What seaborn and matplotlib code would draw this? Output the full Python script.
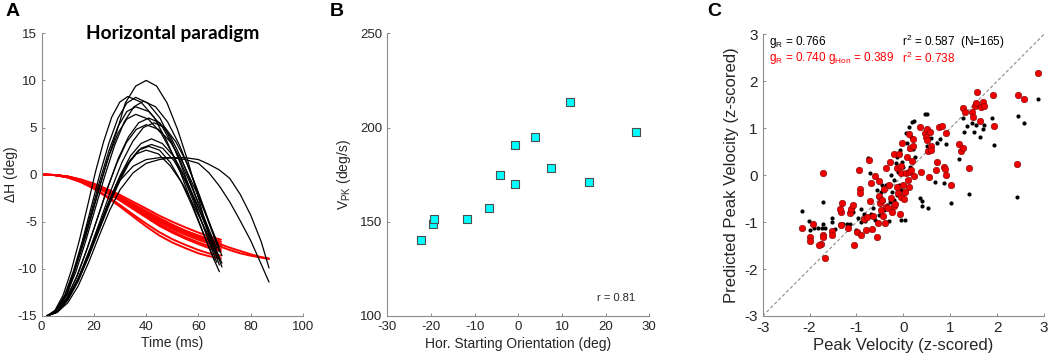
import numpy as np
import pandas as pd
import matplotlib
matplotlib.use("Agg")
import matplotlib.pyplot as plt
import seaborn as sns

# ---------------- Panel A data (curves) ----------------
black_curves_t = [
    [2, 6, 10, 13, 17, 21, 25, 29, 32, 36, 40, 44, 48, 52, 56, 60, 64, 68],
    [2, 5.1, 8.2, 11.3, 14.4, 17.5, 20.6, 23.7, 26.8, 29.9, 33, 38, 43, 48, 53, 58, 63, 66],
    [2, 5.4, 8.8, 12.2, 15.6, 19, 22.4, 25.8, 29.2, 32.6, 36, 40.6, 45.3, 49.9, 54.5, 59.2, 63.8, 67],
    [2, 5.4, 8.8, 12.2, 15.6, 19, 22.4, 25.8, 29.2, 32.6, 36, 41, 46.1, 51.1, 56.2, 61.2, 66.2, 67],
    [2, 5.7, 9.4, 13.1, 16.8, 20.5, 24.2, 27.9, 31.6, 35.3, 39, 43.6, 48.2, 52.8, 57.4, 62, 66.6, 68],
    [2, 5.4, 8.8, 12.2, 15.6, 19, 22.4, 25.8, 29.2, 32.6, 36, 40.8, 45.7, 50.5, 55.4, 60.2, 65, 67],
    [2, 5.9, 9.8, 13.7, 17.6, 21.5, 25.4, 29.3, 33.2, 37.1, 41, 45.2, 49.4, 53.5, 57.7, 61.9, 66.1, 69],
    [2, 6.1, 10.2, 14.3, 18.4, 22.5, 26.6, 30.7, 34.8, 38.9, 43, 47.2, 51.3, 55.5, 59.6, 63.8, 68, 69],
    [2, 5.8, 9.6, 13.4, 17.2, 21, 24.8, 28.6, 32.4, 36.2, 40, 44.8, 49.5, 54.3, 59, 63.8, 68],
    [2, 6, 10, 14, 18, 22, 26, 30, 34, 38, 42, 46.2, 50.4, 54.6, 58.8, 63, 67.2, 68],
    [2, 6, 10, 14, 18, 22, 26, 30, 34, 38, 42, 46.3, 50.6, 55, 59.3, 63.6, 67.9, 69],
    [2, 5.9, 9.8, 13.7, 17.6, 21.5, 25.4, 29.3, 33.2, 37.1, 41, 45.1, 49.2, 53.3, 57.4, 61.5, 65.6, 68],
    [2, 5.8, 9.6, 13.4, 17.2, 21, 24.8, 28.6, 32.4, 36.2, 40, 44.7, 49.3, 54, 58.6, 63.3, 67],
    [2, 6, 10, 14, 18, 22, 26, 30, 35, 40, 45, 50, 55, 60, 64, 68, 72, 76, 80, 84, 87],
    [2, 6, 10, 14, 18, 22, 26, 30, 35, 40, 45, 50, 55, 60, 64, 68, 72, 76, 80, 84, 87],
]
black_curves_y = [
    [-15, -14.4, -12.6, -9.8, -6.4, -2.5, 1.4, 4.8, 7.6, 9.4, 10.0, 9.4, 7.6, 4.8, 1.4, -2.5, -6.4, -9.6],
    [-15, -14.4, -12.8, -10.2, -7.0, -3.4, 0.3, 3.5, 6.1, 7.7, 8.3, 7.7, 6.1, 3.5, 0.3, -3.4, -7.0, -9.0],
    [-15, -14.4, -12.8, -10.2, -7.0, -3.4, 0.2, 3.4, 6.0, 7.6, 8.2, 7.6, 6.0, 3.4, 0.2, -3.4, -7.0, -9.3],
    [-15, -14.5, -12.9, -10.4, -7.3, -3.9, -0.5, 2.6, 5.1, 6.7, 7.2, 6.7, 5.1, 2.6, -0.5, -3.9, -7.3, -7.8],
    [-15, -14.4, -12.8, -10.3, -7.1, -3.6, -0.1, 3.1, 5.6, 7.2, 7.8, 7.2, 5.6, 3.1, -0.1, -3.6, -7.1, -8.2],
    [-15, -14.5, -13.0, -10.6, -7.6, -4.3, -1.0, 2.0, 4.4, 5.9, 6.4, 5.9, 4.4, 2.0, -1.0, -4.3, -7.6, -8.8],
    [-15, -14.5, -13.0, -10.7, -7.7, -4.5, -1.3, 1.7, 4.0, 5.5, 6.0, 5.5, 4.0, 1.7, -1.3, -4.5, -7.7, -9.8],
    [-15, -14.5, -13.0, -10.8, -7.9, -4.8, -1.6, 1.3, 3.5, 5.0, 5.5, 5.0, 3.5, 1.3, -1.6, -4.8, -7.9, -8.6],
    [-15, -14.5, -13.1, -10.8, -8.0, -4.9, -1.7, 1.1, 3.4, 4.8, 5.3, 4.8, 3.4, 1.1, -1.7, -4.9, -7.7],
    [-15, -14.5, -13.2, -11.1, -8.5, -5.6, -2.7, -0.1, 2.0, 3.3, 3.8, 3.3, 2.0, -0.1, -2.7, -5.6, -8.5, -9.0],
    [-15, -14.6, -13.3, -11.2, -8.7, -5.9, -3.1, -0.6, 1.5, 2.8, 3.2, 2.8, 1.5, -0.6, -3.1, -5.9, -8.7, -9.4],
    [-15, -14.6, -13.3, -11.3, -8.8, -6.0, -3.2, -0.7, 1.3, 2.6, 3.0, 2.6, 1.3, -0.7, -3.2, -6.0, -8.8, -10.3],
    [-15, -14.6, -13.3, -11.4, -8.9, -6.2, -3.5, -1.0, 0.9, 2.2, 2.6, 2.2, 0.9, -1.0, -3.5, -6.2, -8.4],
    [-15, -14.5, -13.3, -11.3, -8.6, -5.6, -2.7, -0.6, 0.9, 1.6, 1.8, 1.8, 1.6, 1.2, 0.2, -1.2, -2.9, -4.9, -7.0, -9.5, -11.4],
    [-15, -14.6, -13.6, -11.8, -9.3, -6.5, -3.8, -1.6, 0.2, 1.2, 1.6, 1.8, 1.8, 1.6, 1.1, 0.5, -0.4, -2.1, -4.3, -7.1, -9.9],
]

red_t_short = [0, 5, 10, 15, 20, 25, 30, 35, 40, 45, 50, 55, 60, 64, 68.6]
red_t_long = [0, 5, 10, 15, 20, 25, 30, 35, 40, 45, 50, 55, 60, 64, 68, 72, 76, 80, 84, 87]
red_curves_y_short = [
    [0, -0.03, -0.19, -0.50, -0.95, -1.52, -2.15, -2.88, -3.60, -4.35, -5.00, -5.60, -6.15, -6.55, -6.9],
    [0, -0.04, -0.21, -0.57, -1.07, -1.70, -2.41, -3.20, -3.98, -4.76, -5.40, -5.96, -6.46, -6.82, -7.1],
    [0, -0.04, -0.22, -0.58, -1.10, -1.75, -2.48, -3.29, -4.09, -4.89, -5.55, -6.13, -6.64, -7.01, -7.3],
    [0, -0.04, -0.23, -0.61, -1.14, -1.82, -2.58, -3.42, -4.26, -5.09, -5.78, -6.38, -6.92, -7.30, -7.6],
    [0, -0.04, -0.24, -0.63, -1.19, -1.90, -2.69, -3.56, -4.42, -5.29, -6.00, -6.64, -7.19, -7.58, -7.9],
    [0, -0.04, -0.24, -0.65, -1.22, -1.94, -2.75, -3.65, -4.54, -5.43, -6.16, -6.80, -7.37, -7.78, -8.1],
    [0, -0.05, -0.29, -0.76, -1.42, -2.27, -3.22, -4.23, -5.20, -6.10, -6.85, -7.45, -8.00, -8.35, -8.6],
    [0, -0.05, -0.30, -0.80, -1.50, -2.40, -3.40, -4.45, -5.50, -6.45, -7.20, -7.80, -8.35, -8.65, -8.9],
]
red_curves_y_long = [
    [0, -0.04, -0.20, -0.55, -1.05, -1.65, -2.35, -3.10, -3.85, -4.60, -5.30, -5.95, -6.50, -6.95, -7.35, -7.75, -8.10, -8.45, -8.75, -8.9],
    [0, -0.04, -0.22, -0.58, -1.10, -1.75, -2.50, -3.30, -4.10, -4.90, -5.60, -6.20, -6.75, -7.20, -7.60, -8.00, -8.35, -8.60, -8.80, -8.95],
]

# ---------------- Panel B data ----------------
b_orientation = [-22.4, -19.5, -19.3, -11.8, -6.8, -4.2, -0.8, -0.8, 3.8, 7.4, 11.8, 16.2, 26.9]
b_vpk = [140.3, 149.0, 151.6, 151.6, 157.5, 174.8, 170.0, 190.6, 195.2, 178.7, 213.7, 170.9, 197.8]

# ---------------- Panel C data (z-scored peak velocity: observed, predicted) ----------------
c_black_points = [
    (-2.16, -0.76), (-2.01, -0.98), (-2.00, -1.17), (-1.91, -1.12), (-1.81, -1.12), (-1.74, -1.12),
    (-1.72, -0.57), (-1.71, -1.04), (-1.67, -1.12), (-1.53, -0.92), (-1.53, -0.99), (-1.46, -1.14),
    (-1.35, -1.04), (-1.28, -1.04), (-1.21, -1.04), (-1.14, -1.04), (-1.08, -0.67), (-1.07, -0.78),
    (-1.02, -1.17), (-0.96, -0.92), (-0.91, -0.73), (-0.90, -1.00), (-0.85, -0.82), (-0.82, -0.97),
    (-0.78, -0.90), (-0.75, 0.37), (-0.71, 0.04), (-0.68, -0.82), (-0.64, -0.71), (-0.60, -0.96),
    (-0.57, -0.32), (-0.55, -0.46), (-0.51, -0.85), (-0.48, -0.35), (-0.46, -0.21), (-0.44, -0.55),
    (-0.41, -0.74), (-0.38, -0.21), (-0.34, -0.64), (-0.31, -0.98), (-0.28, -0.58), (-0.26, 0.00),
    (-0.24, -0.35), (-0.21, -0.10), (-0.19, -0.53), (-0.16, 0.25), (-0.14, 0.39), (-0.13, -0.42),
    (-0.11, 0.07), (-0.10, -0.21), (-0.07, 0.53), (-0.06, -0.32), (-0.04, -0.96), (-0.03, 0.29),
    (0.00, 0.18), (0.03, 0.04), (0.04, -0.96), (0.06, 0.89), (0.07, 0.68), (0.11, 0.55),
    (0.13, 1.03), (0.14, 0.18), (0.16, 0.82), (0.18, 1.14), (0.20, 0.55), (0.23, 1.16),
    (0.25, 0.39), (0.36, -0.49), (0.39, -0.55), (0.40, -0.65), (0.47, 1.30), (0.50, 1.30),
    (0.51, 0.61), (0.53, -0.71), (0.60, 0.80), (0.68, -0.14), (0.72, 0.68), (0.78, 0.78),
    (0.87, -0.17), (0.92, 0.66), (1.02, -0.60), (1.18, 0.34), (1.28, 1.21), (1.29, 0.92),
    (1.35, 1.04), (1.39, -0.41), (1.46, 1.10), (1.51, 0.91), (1.55, 1.07), (1.64, 0.82),
    (1.69, 0.98), (1.71, 1.07), (1.89, 1.21), (1.94, 0.64), (2.42, -0.46), (2.45, 1.26),
    (2.57, 1.12), (2.88, 1.62),
]
c_red_points = [
    (-2.16, -1.13), (-2.00, -1.32), (-2.00, -1.41), (-1.92, -1.04), (-1.71, -1.27), (-1.76, -1.47),
    (-1.80, -1.49), (-1.72, -1.32), (-1.68, -1.77), (-1.72, 0.04), (-1.53, -1.20), (-1.53, -1.28),
    (-1.32, -0.79), (-1.36, -0.73), (-1.30, -0.60), (-1.34, -1.06), (-1.19, -1.12), (-1.13, -0.81),
    (-1.11, -0.72), (-1.05, -1.49), (-1.07, -0.63), (-0.99, -1.22), (-0.91, -1.27), (-0.94, 0.10),
    (-0.93, -0.29), (-0.92, -0.37), (-0.85, -0.93), (-0.80, -1.17), (-0.77, -0.89), (-0.74, 0.32),
    (-0.71, -0.55), (-0.70, -0.16), (-0.67, -1.15), (-0.64, -0.88), (-0.60, -0.02), (-0.57, -1.32),
    (-0.55, -1.03), (-0.53, -0.44), (-0.52, -0.12), (-0.50, -0.59), (-0.48, -0.75), (-0.46, -0.52),
    (-0.44, -0.88), (-0.42, -0.30), (-0.40, -1.01), (-0.38, 0.16), (-0.36, -0.68), (-0.32, -0.71),
    (-0.30, -0.21), (-0.28, 0.29), (-0.26, -0.49), (-0.24, -0.78), (-0.21, -0.66), (-0.19, 0.44),
    (-0.18, -0.62), (-0.14, 0.16), (-0.13, -0.25), (-0.11, -0.37), (-0.09, 0.44), (-0.08, -0.82),
    (-0.06, 0.20), (-0.05, -0.46), (-0.04, 0.04), (-0.02, 0.68), (0.00, -0.20), (0.01, -0.50),
    (0.04, -0.35), (0.06, 0.04), (0.07, 0.39), (0.09, -0.10), (0.11, 0.07), (0.11, 0.87),
    (0.13, -0.25), (0.14, 0.57), (0.16, 0.11), (0.18, 0.31), (0.20, 0.61), (0.21, 0.76),
    (0.23, -0.01), (0.36, 1.03), (0.37, 0.06), (0.46, 0.89), (0.48, 0.82), (0.50, 0.75),
    (0.51, 0.99), (0.52, 0.52), (0.54, -0.03), (0.57, 0.92), (0.58, 0.61), (0.60, 0.54),
    (0.70, 0.11), (0.71, 0.29), (0.77, 1.03), (0.82, 1.05), (0.87, 0.18), (0.88, 0.14),
    (0.90, 0.00), (0.92, 0.89), (1.02, -0.21), (1.19, 0.66), (1.24, 0.51), (1.27, 0.58),
    (1.28, 1.42), (1.31, 1.35), (1.39, 0.15), (1.46, 1.35), (1.49, 1.23), (1.53, 1.47),
    (1.56, 1.54), (1.58, 1.78), (1.64, 1.16), (1.65, 1.46), (1.69, 1.56), (1.72, 1.47),
    (1.91, 1.71), (1.94, 1.05), (2.42, 0.24), (2.45, 1.71), (2.58, 1.62), (2.88, 2.18),
]

# ---------------- style ----------------
sns.set_style("ticks")
plt.rcParams["font.family"] = ["Liberation Sans", "DejaVu Sans"]
plt.rcParams["mathtext.fontset"] = "custom"
plt.rcParams["mathtext.rm"] = "Liberation Sans"
plt.rcParams["mathtext.it"] = "Liberation Sans:italic"
plt.rcParams["xtick.direction"] = "in"
plt.rcParams["ytick.direction"] = "in"
plt.rcParams["axes.unicode_minus"] = False

SPINE = "#8c8c8c"
TXT = "#262626"

fig = plt.figure(figsize=(10.52, 3.62), dpi=100)
axA = fig.add_axes([0.0396, 0.1271, 0.2484, 0.7809])
axB = fig.add_axes([0.3682, 0.1271, 0.2490, 0.7809])
axC = fig.add_axes([0.7250, 0.1271, 0.2674, 0.7782])


def style(ax, fs):
    for s in ("top", "right"):
        ax.spines[s].set_visible(False)
    for s in ("left", "bottom"):
        ax.spines[s].set_color(SPINE)
        ax.spines[s].set_linewidth(0.8)
    ax.tick_params(length=2.5, width=0.7, color=SPINE, labelcolor=TXT,
                   labelsize=fs, pad=3.5)


# ---------- Panel A ----------
rows = []
for i, ys in enumerate(red_curves_y_short):
    for t, y in zip(red_t_short, ys):
        rows.append(("r%d" % i, t, y))
for i, ys in enumerate(red_curves_y_long):
    for t, y in zip(red_t_long, ys):
        rows.append(("rl%d" % i, t, y))
df_red = pd.DataFrame(rows, columns=["curve", "t", "y"])
rows = []
for i, (ts, ys) in enumerate(zip(black_curves_t, black_curves_y)):
    for t, y in zip(ts, ys):
        rows.append(("b%d" % i, t, y))
df_black = pd.DataFrame(rows, columns=["curve", "t", "y"])

sns.lineplot(data=df_red, x="t", y="y", units="curve", estimator=None, sort=False,
             color="#ff0000", lw=1.4, ax=axA)
sns.lineplot(data=df_black, x="t", y="y", units="curve", estimator=None, sort=False,
             color="black", lw=0.9, ax=axA)
axA.set_xlim(0, 100)
axA.set_ylim(-15, 15)
axA.set_xticks(np.arange(0, 101, 20))
axA.set_yticks(np.arange(-15, 16, 5))
style(axA, 9.5)
axA.set_xlabel("Time (ms)", fontsize=10, color=TXT)
axA.set_ylabel("ΔH (deg)", fontsize=10, color=TXT)
axA.xaxis.set_label_coords(0.5, -0.070)
axA.yaxis.set_label_coords(-0.091, 0.5)
axA.text(0.5, 1.0, "Horizontal paradigm", transform=axA.transAxes, ha="center",
         va="center", fontsize=13.8, fontweight="bold", family="Lato", color="black")

# ---------- Panel B ----------
sns.scatterplot(x=b_orientation, y=b_vpk, marker="s", s=30, color="#00ffff",
                edgecolor="#4d4d4d", linewidth=0.8, ax=axB, zorder=3)
axB.set_xlim(-30, 30)
axB.set_ylim(100, 250)
axB.set_xticks(np.arange(-30, 31, 10))
axB.set_yticks([100, 150, 200, 250])
style(axB, 9.5)
axB.set_xlabel("Hor. Starting Orientation (deg)", fontsize=10, color=TXT)
axB.set_ylabel(r"V$_{\mathregular{PK}}$ (deg/s)", fontsize=10, color=TXT)
axB.xaxis.set_label_coords(0.5, -0.074)
axB.yaxis.set_label_coords(-0.131, 0.5)
axB.text(22.4, 109.6, "r = 0.81", ha="center", va="center", fontsize=8, color=TXT)

# ---------- Panel C ----------
axC.plot([-3, 3], [-3, 3], ls=(0, (3, 2)), color="#8c8c8c", lw=0.8, zorder=1)
cbx, cby = zip(*c_black_points)
crx, cry = zip(*c_red_points)
sns.scatterplot(x=list(cbx), y=list(cby), color="black", s=9, linewidth=0, ax=axC, zorder=2)
sns.scatterplot(x=list(crx), y=list(cry), color="#f00000", s=22, edgecolor="#7a0000",
                linewidth=0.4, ax=axC, zorder=3)
axC.set_xlim(-3, 3)
axC.set_ylim(-3, 3)
axC.set_xticks(np.arange(-3, 4, 1))
axC.set_yticks(np.arange(-3, 4, 1))
style(axC, 11)
axC.set_xlabel("Peak Velocity (z-scored)", fontsize=12, color=TXT)
axC.set_ylabel("Predicted Peak Velocity (z-scored)", fontsize=12, color=TXT)
axC.xaxis.set_label_coords(0.5, -0.078)
axC.yaxis.set_label_coords(-0.084, 0.5)
fs_t = 8.5
axC.text(-2.87, 2.83, r"g$_{\mathregular{R}}$ = 0.766", color="black", fontsize=fs_t, va="center")
axC.text(-0.02, 2.83, r"r$^{\mathregular{2}}$ = 0.587  (N=165)", color="black", fontsize=fs_t, va="center")
axC.text(-2.87, 2.49, r"g$_{\mathregular{R}}$ = 0.740", color="#ff0000", fontsize=fs_t, va="center")
axC.text(-1.60, 2.49, r"g$_{\mathregular{Hon}}$ = 0.389", color="#ff0000", fontsize=fs_t, va="center")
axC.text(-0.02, 2.49, r"r$^{\mathregular{2}}$ = 0.738", color="#ff0000", fontsize=fs_t, va="center")

# panel letters
for xpx, letter in [(13, "A"), (337, "B"), (714, "C")]:
    fig.text(xpx / 1052, 1 - 12 / 362, letter, ha="center", va="center",
             fontsize=14, fontweight="bold", color="black")

fig.savefig("out.png", dpi=100)
